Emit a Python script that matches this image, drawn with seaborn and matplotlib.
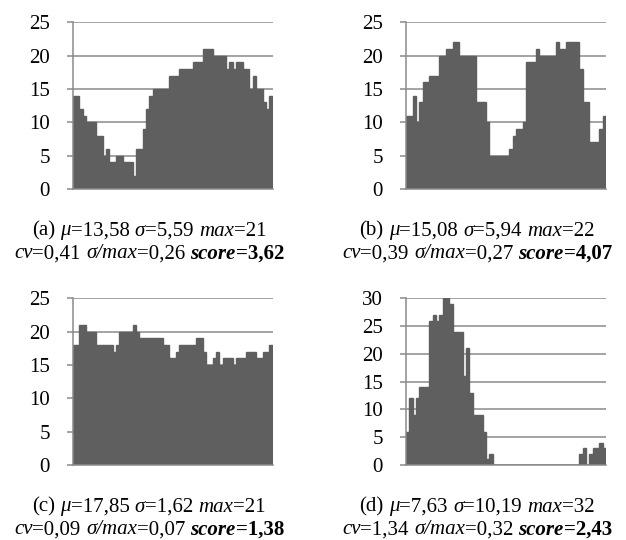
import matplotlib
matplotlib.use("Agg")
import matplotlib.pyplot as plt
import pandas as pd
import seaborn as sns

# bar heights per slot (60 slots per panel)
bars_a = [14, 14, 12, 11, 10, 10, 10, 8, 8, 5, 6, 4, 4, 5, 5, 4, 4, 4, 2, 6,
          6, 9, 12, 14, 15, 15, 15, 15, 15, 17, 17, 17, 18, 18, 18, 18, 19, 19, 19, 21,
          21, 21, 20, 20, 20, 20, 18, 19, 18, 19, 19, 18, 18, 15, 17, 15, 15, 13, 12, 14]
bars_b = [11, 11, 14, 10, 13, 16, 16, 17, 17, 17, 20, 20, 21, 21, 22, 22, 20, 20, 20, 20,
          20, 13, 13, 13, 10, 5, 5, 5, 5, 5, 5, 6, 8, 9, 9, 10, 19, 19, 19, 21,
          20, 20, 20, 20, 20, 22, 21, 21, 22, 22, 22, 22, 18, 13, 13, 7, 7, 7, 9, 11]
bars_c = [18, 18, 21, 21, 20, 20, 20, 18, 18, 18, 18, 18, 17, 18, 20, 20, 20, 20, 21, 20,
          19, 19, 19, 19, 19, 19, 19, 18, 18, 16, 16, 17, 18, 18, 18, 18, 18, 19, 19, 17,
          15, 15, 16, 17, 15, 16, 16, 16, 15, 16, 16, 16, 17, 17, 17, 16, 16, 17, 17, 18]
bars_d = [6, 12, 9, 12, 14, 14, 14, 26, 27, 26, 27, 32, 32, 29, 24, 24, 24, 16, 21, 13,
          9, 9, 9, 6, 1, 2, 0, 0, 0, 0, 0, 0, 0, 0, 0, 0, 0, 0, 0, 0,
          0, 0, 0, 0, 0, 0, 0, 0, 0, 0, 0, 0, 2, 3, 0, 2, 3, 3, 4, 3]

ymax = [25, 25, 25, 30]

# caption parts: (text, style)  r=roman i=italic b=bold bi=bold italic, " " = word gap
cap_a = [[("(a)", "r"), (" ", ""), ("μ", "i"), ("=13,58", "r"), (" ", ""), ("σ", "i"), ("=5,59", "r"), (" ", ""), ("max", "i"), ("=21", "r")],
         [("cv", "i"), ("=0,41", "r"), (" ", ""), ("σ/max", "i"), ("=0,26", "r"), (" ", ""), ("score", "bi"), ("=3,62", "b")]]
cap_b = [[("(b)", "r"), (" ", ""), ("μ", "i"), ("=15,08", "r"), (" ", ""), ("σ", "i"), ("=5,94", "r"), (" ", ""), ("max", "i"), ("=22", "r")],
         [("cv", "i"), ("=0,39", "r"), (" ", ""), ("σ/max", "i"), ("=0,27", "r"), (" ", ""), ("score", "bi"), ("=4,07", "b")]]
cap_c = [[("(c)", "r"), (" ", ""), ("μ", "i"), ("=17,85", "r"), (" ", ""), ("σ", "i"), ("=1,62", "r"), (" ", ""), ("max", "i"), ("=21", "r")],
         [("cv", "i"), ("=0,09", "r"), (" ", ""), ("σ/max", "i"), ("=0,07", "r"), (" ", ""), ("score", "bi"), ("=1,38", "b")]]
cap_d = [[("(d)", "r"), (" ", ""), ("μ", "i"), ("=7,63", "r"), (" ", ""), ("σ", "i"), ("=10,19", "r"), (" ", ""), ("max", "i"), ("=32", "r")],
         [("cv", "i"), ("=1,34", "r"), (" ", ""), ("σ/max", "i"), ("=0,32", "r"), (" ", ""), ("score", "bi"), ("=2,43", "b")]]

W, H = 626, 540
BAR = "#5f5f5f"
GRID = "#8a8a8a"
CAP_SIZE = 15

sns.set_theme(style="white")
plt.rcParams["font.family"] = ["Liberation Serif", "DejaVu Serif"]

fig = plt.figure(figsize=(W / 100, H / 100), dpi=100)


def rich_line(x_px, y_px, parts, size):
    renderer = fig.canvas.get_renderer()
    gap = 0.25 * size * fig.dpi / 72
    items = []
    for s, st in parts:
        if s == " ":
            items.append((None, gap))
            continue
        t = fig.text(0, 0, s, fontsize=size, color="black",
                     style="italic" if "i" in st else "normal",
                     weight="bold" if "b" in st else "normal",
                     ha="left", va="center")
        items.append((t, t.get_window_extent(renderer).width))
    x = x_px - sum(w for _, w in items) / 2
    for t, w in items:
        if t is not None:
            t.set_position((x / W, 1 - y_px / H))
        x += w


panels = [(bars_a, cap_a), (bars_b, cap_b), (bars_c, cap_c), (bars_d, cap_d)]
lefts = [72.7, 406, 72.7, 406]
bottoms = [189, 189, 465, 465]
cap_x = [149, 477, 149, 477]

for i, (vals, cap) in enumerate(panels):
    ax = fig.add_axes([lefts[i] / W, 1 - bottoms[i] / H, 200 / W, 166.7 / H])
    df = pd.DataFrame({"slot": range(len(vals)), "count": vals})
    # edge in the fill colour hides the antialiasing seams between adjacent bars
    sns.barplot(data=df, x="slot", y="count", width=1.0, color=BAR, saturation=1,
                linewidth=1.0, edgecolor=BAR, ax=ax, zorder=3)
    ax.set_xlim(-0.5, len(vals) - 0.5)
    ax.set_ylim(0, ymax[i])
    ax.set_yticks(range(0, ymax[i] + 1, 5))
    ax.set_xticks([])
    ax.set_xlabel("")
    ax.set_ylabel("")
    ax.yaxis.grid(True, color=GRID, linewidth=1.1, zorder=0)
    ax.set_axisbelow(True)
    for side in ["top", "right"]:
        ax.spines[side].set_visible(False)
    for side in ["left", "bottom"]:
        ax.spines[side].set_color(GRID)
        ax.spines[side].set_linewidth(1.1)
        ax.spines[side].set_zorder(4)
    ax.tick_params(axis="y", which="major", direction="out", length=4.5, width=1.1,
                   color=GRID, pad=12, labelsize=15, labelcolor="black", left=True)
    rich_line(cap_x[i], bottoms[i] + 42, cap[0], CAP_SIZE)
    rich_line(cap_x[i], bottoms[i] + 65, cap[1], CAP_SIZE)

fig.savefig("out.png", dpi=100)
